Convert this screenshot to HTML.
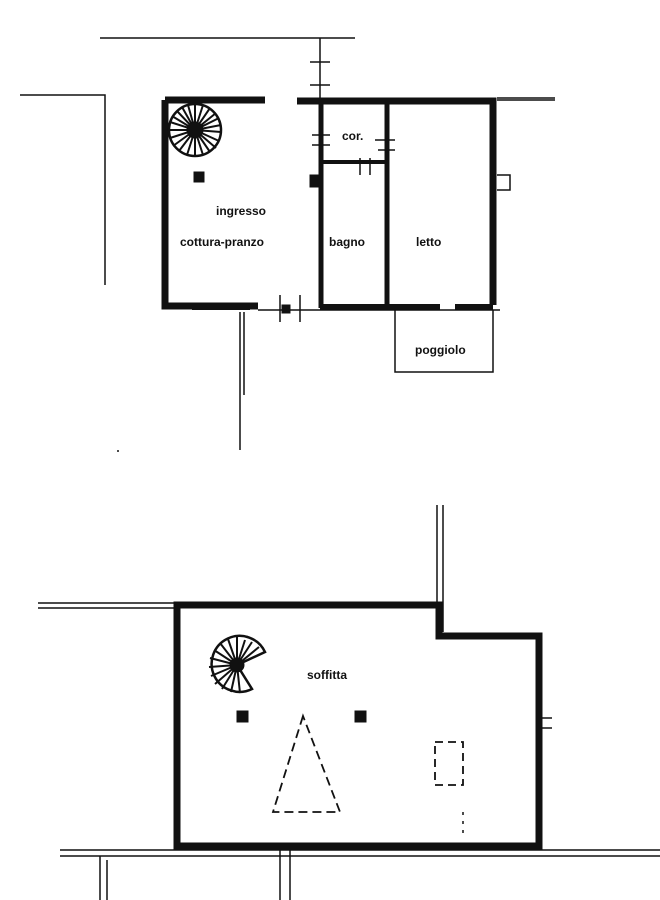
<!DOCTYPE html>
<html><head><style>
html,body{margin:0;padding:0;background:#fff}
svg{display:block}
text{font-family:"Liberation Sans",sans-serif;font-weight:bold;font-size:12px;fill:#111}
</style></head><body>
<svg width="660" height="900" viewBox="0 0 660 900" xmlns="http://www.w3.org/2000/svg">
<g stroke="#111" fill="none">
<path d="M100 38H355M20 95H105V285M320 38V98M310 62H330M310 85H330M497 98H555M497 100H555M497 175H510V190H497M240 312V450M244 312V395M118 450V452" stroke-width="1.5"/>
<path d="M165 100H265M297 101H493V305M165 100V306H258" stroke-width="7"/>
<path d="M298 101H490" stroke-width="5"/>
<path d="M192 307H250M320 307H385M385 307H440M455 307H493" stroke-width="6"/>
<path d="M258 310H500M280 295V322M300 295V322" stroke-width="1.5"/>
<path d="M321 104V308M387 104V308" stroke-width="5"/>
<path d="M321 162H385" stroke-width="4"/>
<path d="M312 135H330M312 145H330M375 140H395M378 150H395M360 158V175M370 158V175" stroke-width="1.5"/>
<path d="M395 310V372H493V310" stroke-width="1.5"/>
<circle cx="195" cy="130" r="26" stroke-width="2.5"/>
<g stroke-width="2">
<path d="M195 130L195 104M195 130L203 105M195 130L210 108M195 130L216 113M195 130L219 118M195 130L221 125M195 130L221 132M195 130L219 141M195 130L216 148M195 130L210 152M195 130L203 155M195 130L195 156M195 130L187 155M195 130L179 151M195 130L173 146M195 130L170 138M195 130L169 130M195 130L170 122M195 130L172 116M195 130L177 111M195 130L182 107M195 130L188 105"/>
</g>
<circle cx="195" cy="130" r="8" fill="#111"/>
<rect x="194" y="172" width="10" height="10" fill="#111"/>
<rect x="310" y="175" width="10" height="12" fill="#111"/>
<rect x="282" y="305" width="8" height="8" fill="#111"/>
<path d="M437 505V602M443 505V632M38 603H175M38 608H175M60 850H660M60 856H660M100 856V900M107 860V900M280 850V900M290 850V900M540 718H552M540 728H552" stroke-width="1.5"/>
<path d="M177 605H439V636H539V846H177Z" stroke-width="7"/>
<path d="M237 665L265 652A28 28 0 1 0 252 689Z" stroke-width="2.5"/>
<g stroke-width="2"><path d="M237 665L237 637M237 665L228 639M237 665L220 643M237 665L214 650M237 665L210 658M237 665L209 667M237 665L211 676M237 665L215 684M237 665L222 689M237 665L231 692M237 665L240 693M237 665L245 640M237 665L252 642M237 665L259 647"/></g>
<circle cx="237" cy="665" r="7" fill="#111"/>
<rect x="237" y="711" width="11" height="11" fill="#111"/>
<rect x="355" y="711" width="11" height="11" fill="#111"/>
<path d="M303 716L273 812H340Z" stroke-width="1.8" stroke-dasharray="9 5"/>
<rect x="435" y="742" width="28" height="43" stroke-width="1.8" stroke-dasharray="8 5"/>
<path d="M463 812V835" stroke-width="1.5" stroke-dasharray="3 6"/>
</g>
<text x="216" y="215">ingresso</text>
<text x="180" y="246">cottura-pranzo</text>
<text x="329" y="246">bagno</text>
<text x="416" y="246">letto</text>
<text x="342" y="140" font-size="11">cor.</text>
<text x="415" y="354">poggiolo</text>
<text x="307" y="679">soffitta</text>
</svg>
</body></html>
